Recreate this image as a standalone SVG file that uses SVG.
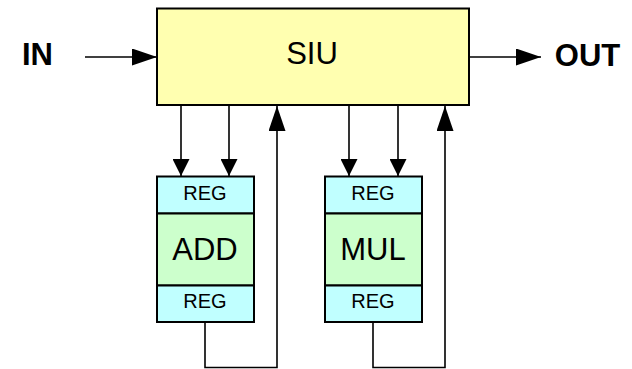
<svg xmlns="http://www.w3.org/2000/svg" width="632" height="369" viewBox="0 0 632 369">
  <defs>
    <marker id="arrow" viewBox="0 0 25 17" refX="25" refY="8.5" markerWidth="25" markerHeight="17" markerUnits="userSpaceOnUse" orient="auto">
      <path d="M0,0 L25,8.5 L0,17 Z" fill="#000"/>
    </marker>
    <marker id="arrowSmall" viewBox="0 0 17 17" refX="17" refY="8.5" markerWidth="17" markerHeight="17" markerUnits="userSpaceOnUse" orient="auto">
      <path d="M0,0 L17,8.5 L0,17 Z" fill="#000"/>
    </marker>
    <style>
      .box { stroke: #000; stroke-width: 2; }
      .siu { fill: #FFFFB0; }
      .reg { fill: #C0FFFF; }
      .alu { fill: #CCFFCC; }
      .wire { fill: none; stroke: #000; stroke-width: 1.6; }
      .t { font-family: "Liberation Sans", Arial, sans-serif; text-anchor: middle; fill: #000; }
      .big { font-size: 31px; }
      .small { font-size: 20px; }
      .bold { font-weight: bold; }
    </style>
  </defs>

  <!-- wiring -->
  <g id="connectors">
    <line class="wire" x1="85" y1="57" x2="157" y2="57" marker-end="url(#arrow)"/>
    <line class="wire" x1="469" y1="57" x2="541" y2="57" marker-end="url(#arrow)"/>
    <line class="wire" x1="181" y1="105" x2="181" y2="176" marker-end="url(#arrowSmall)"/>
    <line class="wire" x1="229" y1="105" x2="229" y2="176" marker-end="url(#arrowSmall)"/>
    <line class="wire" x1="349" y1="105" x2="349" y2="176" marker-end="url(#arrowSmall)"/>
    <line class="wire" x1="398" y1="105" x2="398" y2="176" marker-end="url(#arrowSmall)"/>
    <path class="wire" d="M205,322 V367.5 H277 V106" marker-end="url(#arrow)"/>
    <path class="wire" d="M373,322 V367.5 H445 V106" marker-end="url(#arrow)"/>
  </g>

  <g id="label-in">
    <text class="t big bold" x="37.5" y="65">IN</text>
  </g>
  <g id="label-out">
    <text class="t big bold" x="587.5" y="66">OUT</text>
  </g>

  <g id="siu">
    <rect class="box siu" x="157" y="8.5" width="312" height="96.5"/>
    <text class="t big" x="312" y="64">SIU</text>
  </g>

  <g id="add">
    <rect class="box reg" x="157" y="176.5" width="97" height="37"/>
    <rect class="box alu" x="157" y="213.5" width="97" height="72"/>
    <rect class="box reg" x="157" y="285.5" width="97" height="36.5"/>
    <text class="t small" x="205" y="200">REG</text>
    <text class="t big" x="205" y="260">ADD</text>
    <text class="t small" x="205" y="308">REG</text>
  </g>

  <g id="mul">
    <rect class="box reg" x="325" y="176.5" width="97" height="37"/>
    <rect class="box alu" x="325" y="213.5" width="97" height="72"/>
    <rect class="box reg" x="325" y="285.5" width="97" height="36.5"/>
    <text class="t small" x="373" y="200">REG</text>
    <text class="t big" x="373" y="260">MUL</text>
    <text class="t small" x="373" y="308">REG</text>
  </g>
</svg>
